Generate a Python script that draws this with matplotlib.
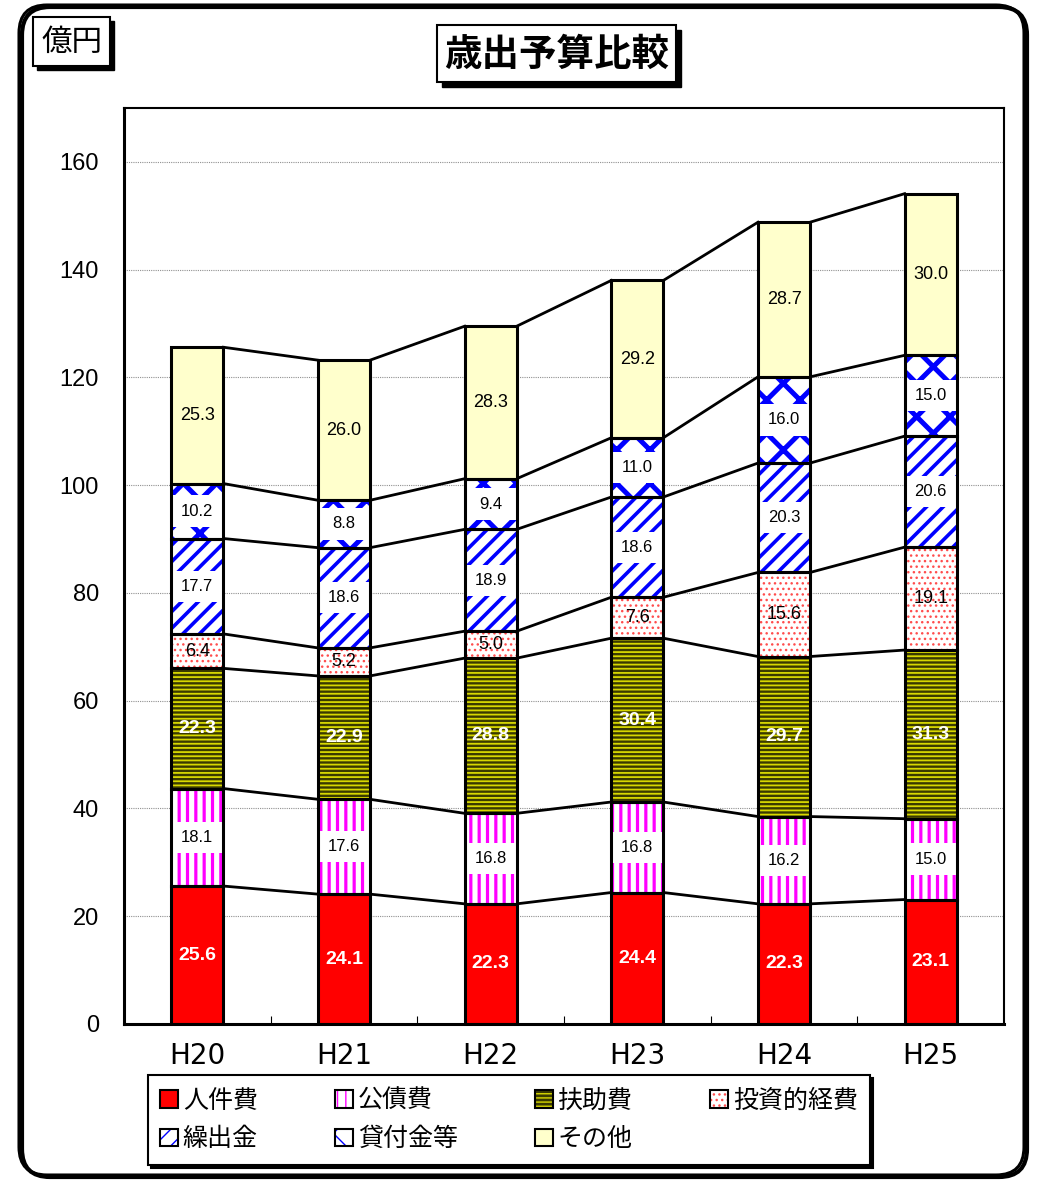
import numpy as np
import matplotlib.pyplot as plt
from matplotlib.patches import Rectangle, FancyBboxPatch, Patch
from matplotlib.transforms import IdentityTransform

plt.rcParams['font.family'] = ['Liberation Sans', 'Noto Sans CJK JP']

years = ['H20', 'H21', 'H22', 'H23', 'H24', 'H25']
names = ['人件費', '公債費', '扶助費', '投資的経費', '繰出金', '貸付金等', 'その他']
jinken = [25.6, 24.1, 22.3, 24.4, 22.3, 23.1]
kousai = [18.1, 17.6, 16.8, 16.8, 16.2, 15.0]
fujo = [22.3, 22.9, 28.8, 30.4, 29.7, 31.3]
toushi = [6.4, 5.2, 5.0, 7.6, 15.6, 19.1]
kuridashi = [17.7, 18.6, 18.9, 18.6, 20.3, 20.6]
kashitsuke = [10.2, 8.8, 9.4, 11.0, 16.0, 15.0]
sonota = [25.3, 26.0, 28.3, 29.2, 28.7, 30.0]
series = [jinken, kousai, fujo, toushi, kuridashi, kashitsuke, sonota]

# 塗り・ハッチ・ラベルの見た目（系列ごと）
styles = [
    dict(fc='#FF0000', hatch=None, hc='#FF0000', hlw=1.0, lab='bold'),
    dict(fc='white', hatch='||', hc='#FF00FF', hlw=2.3, lab='box'),
    dict(fc='#3A3A00', hatch='----', hc='#D8D800', hlw=1.3, lab='bold'),
    dict(fc='white', hatch='...', hc='#FF4D4D', hlw=1.0, lab='plain'),
    dict(fc='white', hatch='//', hc='#0000FF', hlw=2.6, lab='box'),
    dict(fc='white', hatch='x', hc='#0000FF', hlw=3.6, lab='box'),
    dict(fc='#FFFFCC', hatch=None, hc='#FFFFCC', hlw=1.0, lab='plain'),
]

W, H = 1039, 1180
fig = plt.figure(figsize=(W / 100, H / 100), dpi=100)
ax = fig.add_axes([124 / W, 1 - 1024 / H, 880 / W, 916 / H])

x = np.arange(len(years))
w = 0.355
bottom = np.zeros(len(years))
tops = []
handles = []
for vals, st in zip(series, styles):
    vals = np.array(vals)
    with plt.rc_context({'hatch.linewidth': st['hlw']}):
        ax.bar(x, vals, w, bottom=bottom, color=st['fc'], hatch=st['hatch'],
               edgecolor=st['hc'], linewidth=0, zorder=2)
        hp = Patch(facecolor=st['fc'], hatch=st['hatch'], edgecolor=st['hc'], linewidth=0)
    ax.bar(x, vals, w, bottom=bottom, fill=False, edgecolor='black', linewidth=2.2, zorder=3)
    handles.append((hp, Patch(fill=False, edgecolor='black', linewidth=1.5)))

    for i, v in enumerate(vals):
        mid = bottom[i] + v / 2
        if st['lab'] == 'box':
            ax.add_patch(Rectangle((x[i] - w / 2, mid - 2.9), w, 5.8,
                                   facecolor='white', edgecolor='none', zorder=2.5))
            ax.text(x[i], mid, f'{v:.1f}', ha='center', va='center', fontsize=12, zorder=4)
        elif st['lab'] == 'bold':
            ax.text(x[i], mid, f'{v:.1f}', ha='center', va='center', fontsize=14,
                    fontweight='bold', color='white', zorder=4)
        else:
            ax.text(x[i], mid, f'{v:.1f}', ha='center', va='center', fontsize=13, zorder=4)
    bottom = bottom + vals
    tops.append(bottom.copy())

# 棒同士をつなぐ線
for t in tops:
    for i in range(len(years) - 1):
        ax.plot([x[i] + w / 2, x[i + 1] - w / 2], [t[i], t[i + 1]], color='black', lw=2.0, zorder=1)

ax.set_xlim(-0.5, len(years) - 0.5)
ax.set_ylim(0, 170)
ax.set_yticks(np.arange(0, 161, 20))
ax.set_xticks(x)
ax.set_xticklabels(years, family='DejaVu Sans')
ax.set_xticks(np.arange(0.5, len(years) - 1, 1), minor=True)
ax.tick_params(axis='y', length=0, labelsize=17, pad=18)
ax.tick_params(axis='x', which='major', length=0, labelsize=20, pad=13)
ax.tick_params(axis='x', which='minor', direction='in', length=6, width=0.8)
ax.yaxis.grid(True, linestyle=(0, (1, 1)), color='#909090', lw=0.8)
ax.set_axisbelow(True)
for s in ax.spines.values():
    s.set_linewidth(1.5)
ax.spines['left'].set_linewidth(2.2)
ax.spines['bottom'].set_linewidth(2.2)


def px_rect(x0, y0, x1, y1, **kw):
    return Rectangle((x0, H - y1), x1 - x0, y1 - y0, transform=IdentityTransform(), **kw)


# 外枠（角丸＋影）
fig.add_artist(FancyBboxPatch((22, H - 1177), 1005, 1170, boxstyle='round,pad=0,rounding_size=28',
                              transform=IdentityTransform(), fill=False, edgecolor='black', lw=3, zorder=0))
fig.add_artist(FancyBboxPatch((19, H - 1175), 1005, 1170, boxstyle='round,pad=0,rounding_size=28',
                              transform=IdentityTransform(), fill=False, edgecolor='black', lw=2.2, zorder=0))

# タイトル
fig.add_artist(px_rect(442, 30, 681, 87, facecolor='black', edgecolor='black'))
fig.add_artist(px_rect(437, 25, 676, 82, facecolor='white', edgecolor='black', lw=1.5))
fig.text(556.5 / W, 1 - 54 / H, '歳出予算比較', ha='center', va='center', fontsize=27,
         fontweight='bold', family=['Noto Sans CJK JP'])

# 単位
fig.add_artist(px_rect(37, 21, 114, 70, facecolor='black', edgecolor='black'))
fig.add_artist(px_rect(33, 17, 110, 66, facecolor='white', edgecolor='black', lw=1.5))
fig.text(71.5 / W, 1 - 42 / H, '億円', ha='center', va='center', fontsize=22,
         family=['Noto Sans CJK JP'])

# 凡例（行方向に並べるため順番を入れ替え）
order = [0, 4, 1, 5, 2, 6, 3]
leg = fig.legend([handles[k] for k in order], [names[k] for k in order], ncol=4,
                 loc='center', bbox_to_anchor=(509 / W, 1 - 1120 / H), fontsize=18,
                 handlelength=0.7, handleheight=0.7, handletextpad=0.2, columnspacing=3.1,
                 labelspacing=0.5, borderpad=0.5, fancybox=False, framealpha=1,
                 edgecolor='black', prop={'family': ['Noto Sans CJK JP'], 'size': 18},
                 shadow={'facecolor': 'black', 'edgecolor': 'black', 'alpha': 1})
leg.get_frame().set_linewidth(1.5)

fig.savefig('out.png', dpi=100)
